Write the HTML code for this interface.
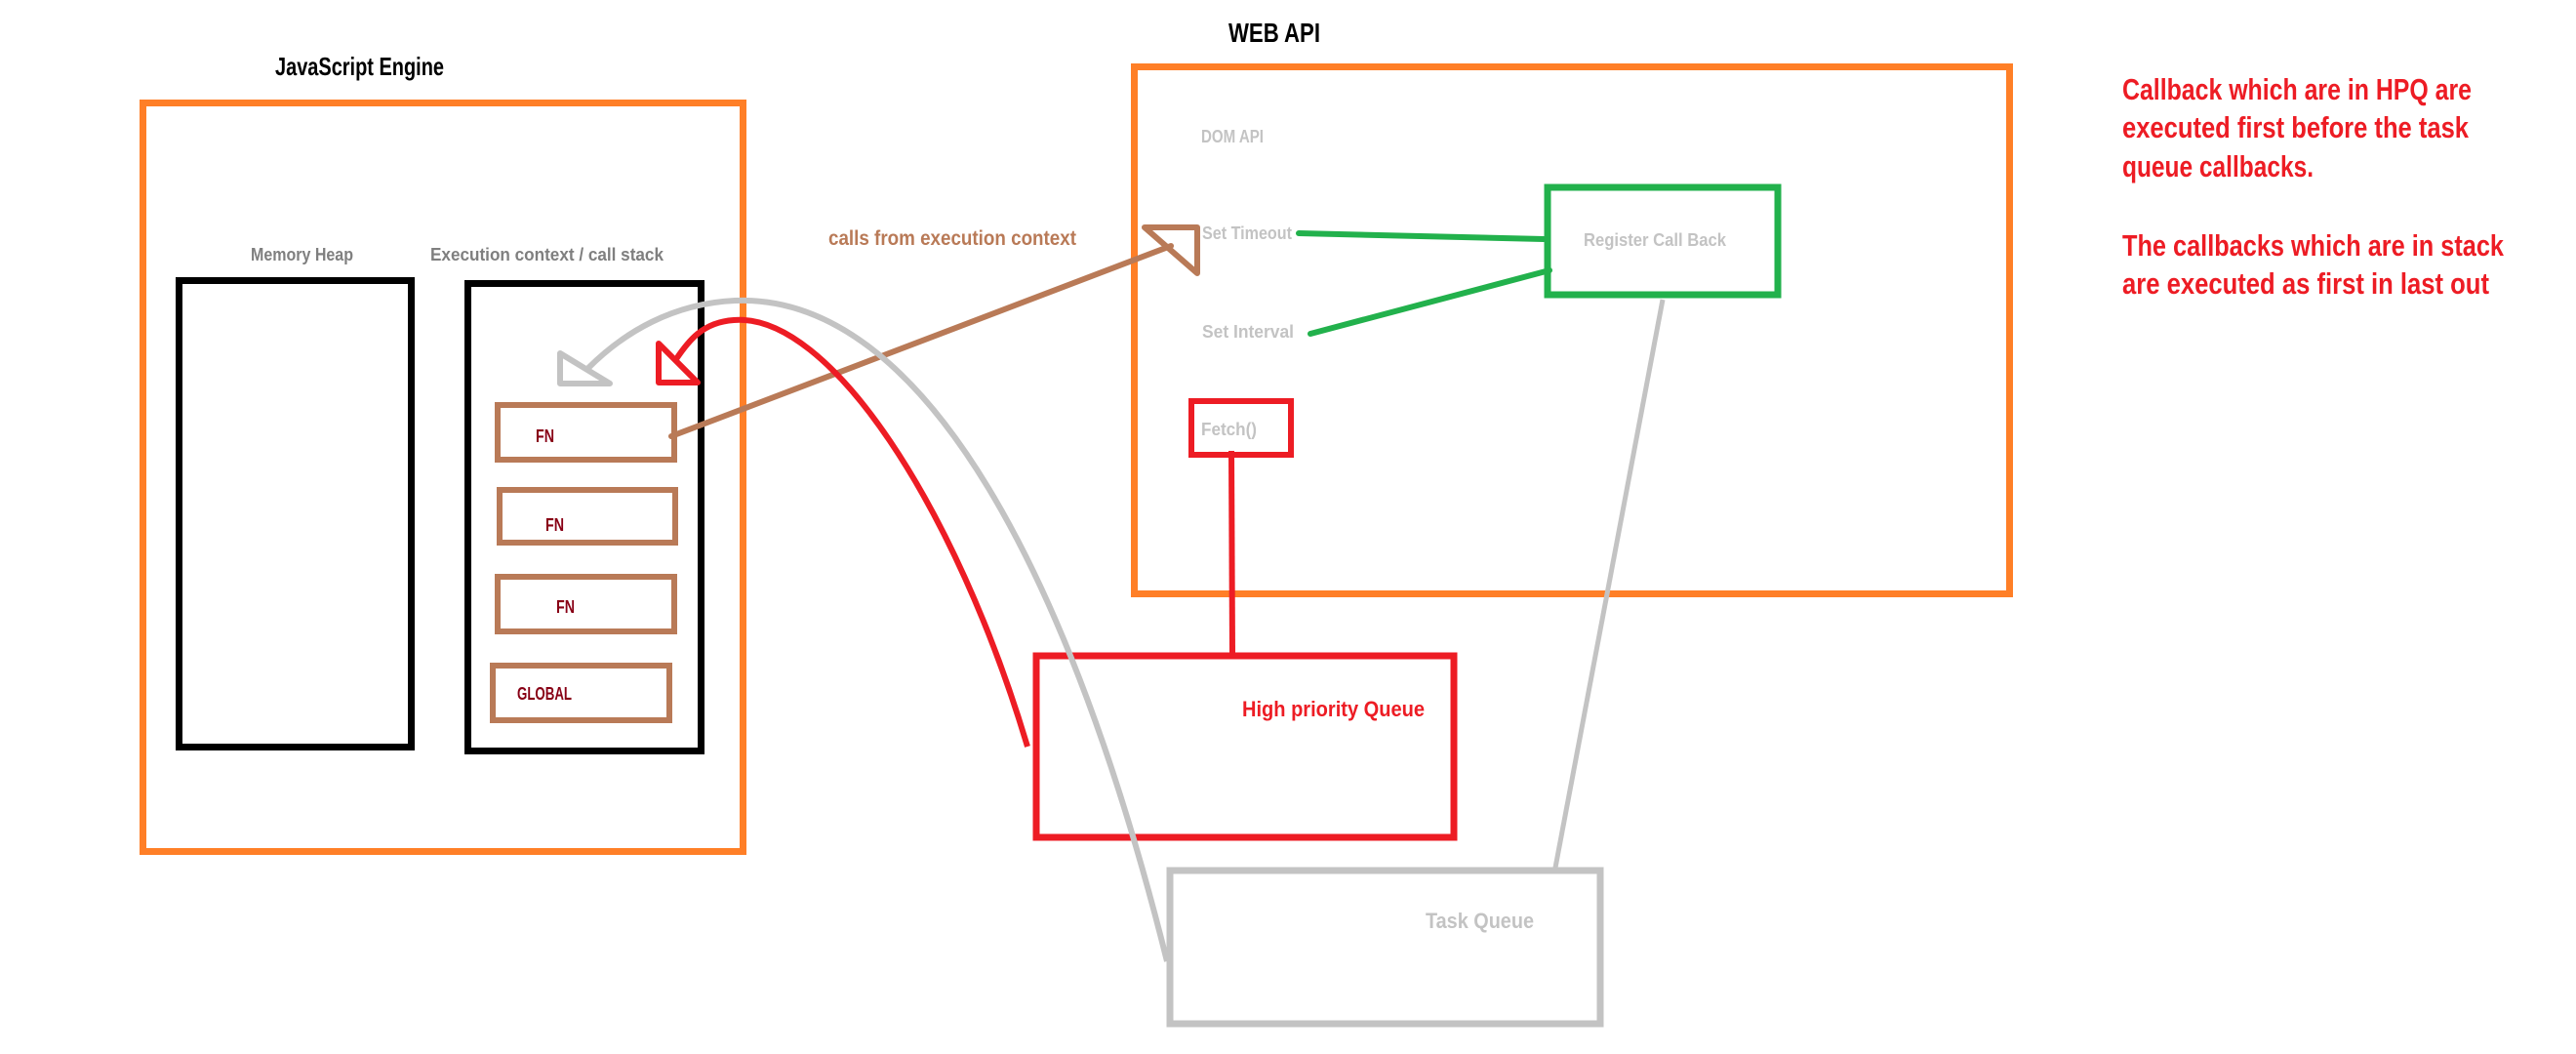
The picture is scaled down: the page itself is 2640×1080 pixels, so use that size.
<!DOCTYPE html>
<html><head><meta charset="utf-8"><style>
html,body{margin:0;padding:0;background:#fff;width:2640px;height:1080px;overflow:hidden}
svg{display:block}
text{font-family:"Liberation Sans Narrow","Liberation Sans",sans-serif;font-weight:bold}
</style></head><body>
<svg width="2640" height="1080" viewBox="0 0 2640 1080" xmlns="http://www.w3.org/2000/svg">
<g fill="none">
<!-- JS Engine -->
<rect x="146.5" y="105.5" width="615" height="767" stroke="#ff7f27" stroke-width="7"/>
<rect x="183.5" y="287.5" width="238" height="478" stroke="#000" stroke-width="7"/>
<rect x="479.5" y="290.5" width="239" height="479" stroke="#000" stroke-width="7"/>
<rect x="510" y="415" width="181" height="56" stroke="#b97a57" stroke-width="6"/>
<rect x="512" y="502" width="180" height="54" stroke="#b97a57" stroke-width="6"/>
<rect x="510" y="591" width="181" height="56" stroke="#b97a57" stroke-width="6"/>
<rect x="505" y="682" width="181" height="56" stroke="#b97a57" stroke-width="6"/>
<!-- Web API -->
<rect x="1162.5" y="68.5" width="897" height="540" stroke="#ff7f27" stroke-width="7"/>
<rect x="1221" y="411" width="102" height="55" stroke="#ed1c24" stroke-width="6"/>
<rect x="1586" y="192" width="236" height="110" stroke="#22b14c" stroke-width="7"/>
<!-- queues -->
<rect x="1062" y="672" width="428" height="186" stroke="#ed1c24" stroke-width="7"/>
<rect x="1199" y="892" width="441" height="157" stroke="#c3c3c3" stroke-width="7"/>
<!-- connectors -->
<line x1="1262" y1="462" x2="1263" y2="670" stroke="#ed1c24" stroke-width="6"/>
<path d="M1331,239 L1582,245" stroke="#22b14c" stroke-width="6" stroke-linecap="round"/>
<path d="M1343,342 L1588,277" stroke="#22b14c" stroke-width="6" stroke-linecap="round"/>
<path d="M1704,307 L1594,889" stroke="#c3c3c3" stroke-width="5"/>
<path d="M688,447 L1200,252" stroke="#b97a57" stroke-width="6" stroke-linecap="round"/>
<polygon points="1173,233 1227,233 1227,280" stroke="#b97a57" stroke-width="6" stroke-linejoin="round"/>
<path d="M1196,985 C1100,600 950,300 753,308 C690,311 640,340 603,377" stroke="#c3c3c3" stroke-width="6"/>
<polygon points="574,362 574,393 625,393" stroke="#c3c3c3" stroke-width="6" stroke-linejoin="round"/>
<path d="M1053,765 C980,520 850,320 752,328 C720,330 705,350 693,368" stroke="#ed1c24" stroke-width="6"/>
<polygon points="675,352 675,392 715,392" stroke="#ed1c24" stroke-width="6" stroke-linejoin="round"/>
</g>
<!-- text -->
<text x="282" y="77" font-size="26" fill="#000" textLength="173" lengthAdjust="spacingAndGlyphs">JavaScript Engine</text>
<text x="1259" y="43" font-size="28" fill="#000" textLength="94" lengthAdjust="spacingAndGlyphs">WEB API</text>
<text x="257" y="267" font-size="18" fill="#7f7f7f" textLength="105" lengthAdjust="spacingAndGlyphs">Memory Heap</text>
<text x="441" y="267" font-size="18" fill="#7f7f7f" textLength="239" lengthAdjust="spacingAndGlyphs">Execution context / call stack</text>
<text x="549" y="453" font-size="18" fill="#880015" textLength="19" lengthAdjust="spacingAndGlyphs">FN</text>
<text x="559" y="544" font-size="18" fill="#880015" textLength="19" lengthAdjust="spacingAndGlyphs">FN</text>
<text x="570" y="628" font-size="18" fill="#880015" textLength="19" lengthAdjust="spacingAndGlyphs">FN</text>
<text x="530" y="717" font-size="18" fill="#880015" textLength="56" lengthAdjust="spacingAndGlyphs">GLOBAL</text>
<text x="849" y="251" font-size="21" fill="#b97a57" textLength="254" lengthAdjust="spacingAndGlyphs">calls from execution context</text>
<text x="1231" y="146" font-size="18" fill="#c3c3c3" textLength="64" lengthAdjust="spacingAndGlyphs">DOM API</text>
<text x="1232" y="245" font-size="18" fill="#c3c3c3" textLength="92" lengthAdjust="spacingAndGlyphs">Set Timeout</text>
<text x="1232" y="346" font-size="18" fill="#c3c3c3" textLength="94" lengthAdjust="spacingAndGlyphs">Set Interval</text>
<text x="1231" y="446" font-size="18" fill="#c3c3c3" textLength="57" lengthAdjust="spacingAndGlyphs">Fetch()</text>
<text x="1623" y="252" font-size="18" fill="#c3c3c3" textLength="146" lengthAdjust="spacingAndGlyphs">Register Call Back</text>
<text x="1273" y="734" font-size="22" fill="#ed1c24" textLength="187" lengthAdjust="spacingAndGlyphs">High priority Queue</text>
<text x="1461" y="951" font-size="22" fill="#c3c3c3" textLength="111" lengthAdjust="spacingAndGlyphs">Task Queue</text>
<g font-size="31" fill="#ed1c24">
<text x="2175" y="102" textLength="358" lengthAdjust="spacingAndGlyphs">Callback which are in HPQ are</text>
<text x="2175" y="141" textLength="355" lengthAdjust="spacingAndGlyphs">executed first before the task</text>
<text x="2175" y="181" textLength="196" lengthAdjust="spacingAndGlyphs">queue callbacks.</text>
<text x="2175" y="262" textLength="391" lengthAdjust="spacingAndGlyphs">The callbacks which are in stack</text>
<text x="2175" y="301" textLength="376" lengthAdjust="spacingAndGlyphs">are executed as first in last out</text>
</g>
</svg>
</body></html>
